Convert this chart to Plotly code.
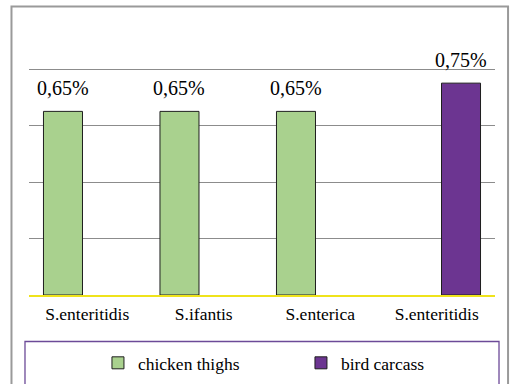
import plotly.graph_objects as go

# Salmonella serovars detected per sample type (percent of samples)
categories = ["S.enteritidis", "S.ifantis", "S.enterica", "S.enteritidis"]
chicken_thighs = [0.65, 0.65, 0.65, None]
bird_carcass = [None, None, None, 0.75]
y_ticks = [0.2, 0.4, 0.6, 0.8]

GREEN = "#a9d18e"
PURPLE = "#6c3591"
SERIF = "Liberation Serif"

positions = list(range(len(categories)))

fig = go.Figure()
fig.add_trace(go.Bar(
    name="chicken thighs", x=positions, y=chicken_thighs,
    marker=dict(color=GREEN, line=dict(color="#1e1e1e", width=1)),
))
fig.add_trace(go.Bar(
    name="bird carcass", x=positions, y=bird_carcass,
    marker=dict(color=PURPLE, line=dict(color="#1e1e1e", width=1)),
))

# value labels above each bar, offset to the bar's slot within its group
bargap = 0.167
slot = (1 - bargap) / 2
annotations = []
for series, shift in ((chicken_thighs, -slot / 2), (bird_carcass, slot / 2)):
    for i, v in enumerate(series):
        if v is None:
            continue
        annotations.append(dict(
            x=i + shift, y=v, xref="x", yref="y",
            text=f"{v:.2f}%".replace(".", ","),
            showarrow=False, yanchor="bottom", yshift=10,
            font=dict(family=SERIF, size=20, color="black"),
        ))

# chart frame and legend box (paper coordinates)
shapes = [
    dict(type="rect", xref="paper", yref="paper",
         x0=-0.0376, x1=1.028, y0=-0.48, y1=1.2654,
         line=dict(color="#9a9a9a", width=2), fillcolor="rgba(0,0,0,0)", layer="below"),
    dict(type="rect", xref="paper", yref="paper",
         x0=-0.0086, x1=1.0086, y0=-0.48, y1=-0.2039,
         line=dict(color="#6c4a98", width=1.3), fillcolor="rgba(0,0,0,0)", layer="below"),
]

fig.update_layout(
    width=511, height=384,
    margin=dict(l=29, r=16, t=67, b=89, autoexpand=False),
    paper_bgcolor="white", plot_bgcolor="white",
    barmode="group", bargap=bargap, bargroupgap=0.196,
    font=dict(family=SERIF, size=17.5, color="black"),
    showlegend=True,
    legend=dict(
        orientation="h", x=0.148, y=-0.298, xanchor="left", yanchor="middle",
        bgcolor="rgba(0,0,0,0)", borderwidth=0,
        font=dict(family=SERIF, size=17.5, color="black"),
        entrywidth=158, entrywidthmode="pixels",
    ),
    xaxis=dict(
        range=[-0.5, len(categories) - 0.5],
        tickmode="array", tickvals=positions, ticktext=categories,
        showline=True, linecolor="#efe31b", linewidth=1.5,
        showgrid=False, zeroline=False, ticks="", ticklabelstandoff=2,
        tickfont=dict(family=SERIF, size=17.5, color="black"),
    ),
    yaxis=dict(
        range=[0, 0.8071], tickmode="array", tickvals=y_ticks,
        showticklabels=False, showgrid=True, gridcolor="#8c8c8c", gridwidth=1,
        zeroline=False, showline=False, ticks="",
    ),
    annotations=annotations,
    shapes=shapes,
)

fig.write_html("out.html")
